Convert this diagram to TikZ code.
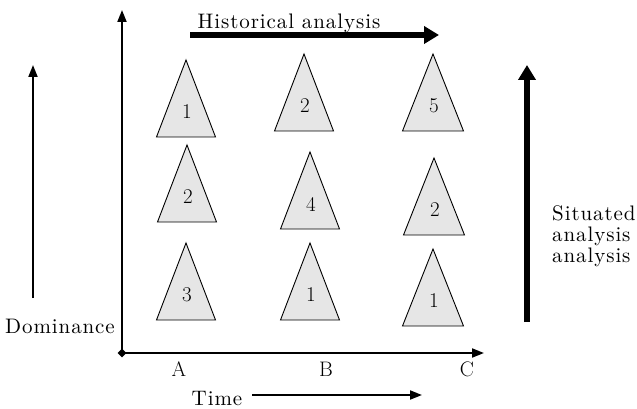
\documentclass[tikz,border=0pt]{standalone}
\usepackage{fontspec}
\newfontfamily\spacedfont{lmroman10-regular.otf}[LetterSpace=4.3]
\usetikzlibrary{arrows.meta,shapes.geometric}
\definecolor{triGray}{HTML}{E6E6E6}
\tikzset{
  tri/.style={draw, line width=0.9pt, fill=triGray, line join=miter},
  lbl/.style={font=\fontsize{21}{24}\selectfont, inner sep=0pt},
  spaced/.style={font=\spacedfont\fontsize{21}{24}\selectfont, inner sep=0pt},
  thinarrow/.style={line width=1.8pt, -{Triangle[length=12pt,width=9pt]}},
  thickarrow/.style={line width=5.5pt, -{Triangle[length=15pt,width=17pt]}},
}
\newcommand{\mytri}[5]{% name, apex x, apex y, half width, label
  \draw[tri] (#2,#3) -- (#2-#4,#3+77) -- (#2+#4,#3+77) -- cycle;
  \node[lbl] (#1) at (#2+1,#3+52) {#5};
}
\begin{document}
\begin{tikzpicture}[x=1pt,y=-1pt]
\useasboundingbox (0,0) rectangle (637,409);
% axes
\node[diamond, fill=black, inner sep=0pt, minimum size=9pt] (O) at (122,353) {};
\coordinate (ytop) at (122,10);
\coordinate (xend) at (484,353);
\draw[thinarrow] (O.center) -- (ytop);
\draw[thinarrow] (O.center) -- (xend);
% triangles
\mytri{a1}{186}{60}{29.5}{1}
\mytri{b2}{304}{54}{29.5}{2}
\mytri{c5}{433}{54}{30.5}{5}
\mytri{a2}{187}{145}{29.5}{2}
\mytri{b4}{310}{152}{29.5}{4}
\mytri{c2}{434}{158}{30.5}{2}
\mytri{a3}{186}{243}{29.5}{3}
\mytri{b1}{310}{243}{29.5}{1}
\mytri{c1}{433}{249}{30.5}{1}
% top arrow
\node[spaced, anchor=base] (hist) at (289,29) {Historical analysis};
\coordinate (h0) at (190,35);
\coordinate (h1) at (439,35);
\draw[thickarrow] (h0) -- (h1);
% left arrow
\coordinate (d0) at (33,298);
\coordinate (d1) at (33,65);
\draw[thinarrow] (d0) -- (d1);
\node[spaced, anchor=base] (dom) at (60,333) {Dominance};
% right arrow
\coordinate (s0) at (527,322);
\coordinate (s1) at (527,65);
\draw[thickarrow] (s0) -- (s1);
\node[spaced, anchor=base west] (sit1) at (552,220) {Situated};
\node[spaced, anchor=base west] (sit2) at (552,241) {analysis};
\node[spaced, anchor=base west] (sit3) at (552,262) {analysis};
% x labels
\node[lbl, anchor=base] (A) at (179,376) {A};
\node[lbl, anchor=base] (B) at (326,376) {B};
\node[lbl, anchor=base] (C) at (467,376) {C};
% time
\node[spaced, anchor=base] (time) at (217,405) {Time};
\coordinate (t0) at (252,395);
\coordinate (t1) at (422,395);
\draw[thinarrow] (t0) -- (t1);
\end{tikzpicture}
\end{document}
